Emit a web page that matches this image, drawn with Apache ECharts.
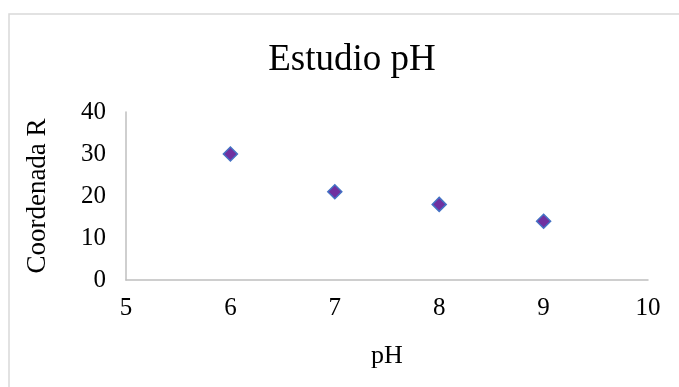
<!DOCTYPE html>
<html>
<head>
<meta charset="utf-8">
<script src="https://cdn.jsdelivr.net/npm/echarts@6/dist/echarts.min.js"></script>
<style>
  html, body { margin: 0; padding: 0; background: #fff; }
  #chart { width: 679px; height: 387px; }
</style>
</head>
<body>
<div id="chart"></div>
<script>
// pH values tested and the measured R coordinate for each
const phValues = [6, 7, 8, 9];
const coordR = [30, 21, 18, 14];

const xTicks = { min: 5, max: 10, interval: 1 };
const yTicks = { min: 0, max: 40, interval: 10 };

const serif = 'Liberation Serif, Times New Roman, serif';
const chart = echarts.init(document.getElementById('chart'));

chart.setOption({
  backgroundColor: '#ffffff',
  animation: false,
  title: {
    text: 'Estudio pH',
    left: 347,
    textAlign: 'center',
    top: 37,
    textStyle: { fontFamily: serif, fontSize: 37, fontWeight: 'normal', color: '#000' }
  },
  graphic: [{
    type: 'rect',
    shape: { x: 9, y: 14, width: 720, height: 420 },
    style: { fill: 'none', stroke: '#d9d9d9', lineWidth: 1.5 },
    silent: true,
    z: -1
  }],
  grid: { left: 126, right: 31, top: 112, bottom: 107 },
  xAxis: {
    type: 'value',
    min: xTicks.min, max: xTicks.max, interval: xTicks.interval,
    name: 'pH',
    nameLocation: 'middle',
    nameGap: 63,
    nameTextStyle: { fontFamily: serif, fontSize: 26, color: '#000' },
    axisLine: { show: true, onZero: false, lineStyle: { color: '#bfbfbf', width: 1.5 } },
    axisTick: { show: false },
    splitLine: { show: false },
    axisLabel: { fontFamily: serif, fontSize: 25, color: '#000', margin: 16 }
  },
  yAxis: {
    type: 'value',
    min: yTicks.min, max: yTicks.max, interval: yTicks.interval,
    name: 'Coordenada R',
    nameLocation: 'middle',
    nameGap: 75,
    nameTextStyle: { fontFamily: serif, fontSize: 27, color: '#000' },
    axisLine: { show: true, lineStyle: { color: '#bfbfbf', width: 1.5 } },
    axisTick: { show: false },
    splitLine: { show: false },
    axisLabel: { fontFamily: serif, fontSize: 25, color: '#000', margin: 20 }
  },
  series: [{
    type: 'scatter',
    data: phValues.map((p, i) => [p, coordR[i]]),
    symbol: 'diamond',
    symbolSize: 14,
    itemStyle: { color: '#7030A0', borderColor: '#4472C4', borderWidth: 1.5, opacity: 1 }
  }]
});
</script>
</body>
</html>
